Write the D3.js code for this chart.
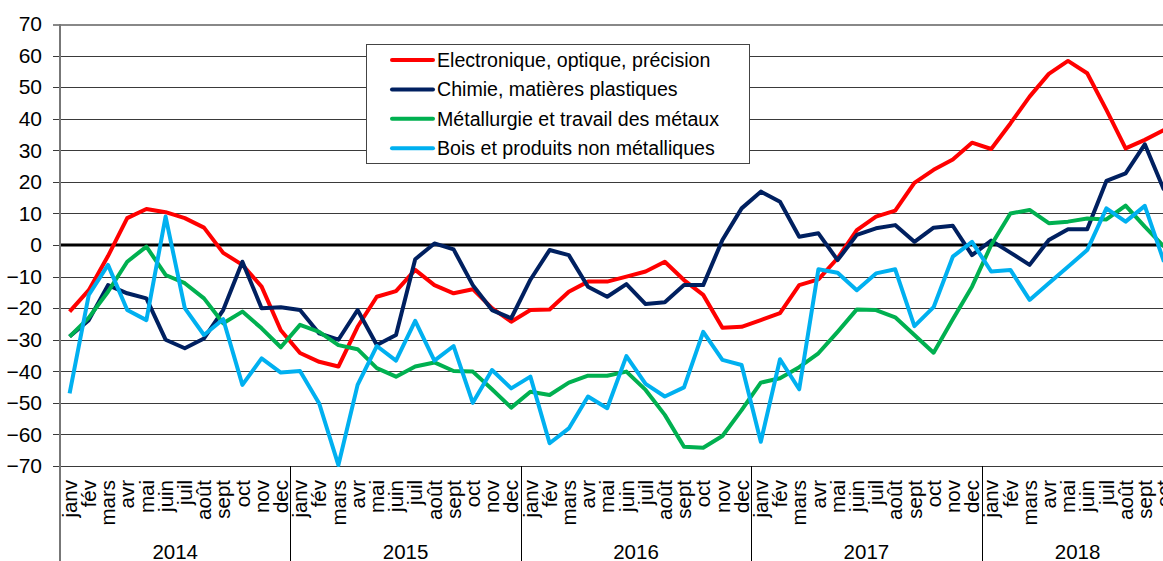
<!DOCTYPE html>
<html>
<head>
<meta charset="utf-8">
<script src="https://cdnjs.cloudflare.com/ajax/libs/d3/7.8.5/d3.min.js"></script>
<style>
  body { margin: 0; background: #fff; overflow: hidden; }
  svg { display: block; font-family: "Liberation Sans", Arial, sans-serif; }
</style>
</head>
<body>
<script>
// Data
var months = ["janv", "fév", "mars", "avr", "mai", "juin", "juil", "août", "sept", "oct", "nov", "dec"];
var years = ["2014", "2015", "2016", "2017", "2018"];
var yTicks = [70, 60, 50, 40, 30, 20, 10, 0, -10, -20, -30, -40, -50, -60, -70];

var electronique = [-21.1, -14.3, -3.5, 8.5, 11.4, 10.4, 8.5, 5.5, -2.5, -6.3, -13.2, -27,
  -34.2, -37, -38.5, -25.9, -16.4, -14.6, -7.9, -12.7, -15.3, -14, -20, -24.3,
  -20.6, -20.4, -14.8, -11.6, -11.6, -10, -8.4, -5.3, -11.1, -15.8, -26.2, -25.9,
  -23.8, -21.6, -12.7, -10.9, -4.2, 4.7, 9, 10.9, 19.7, 23.8, 27.1, 32.4,
  30.4, 38.5, 47, 54.2, 58.3, 54.4, 42.8, 30.6, 33.3, 36.4];
var chimie = [-29, -23.8, -12.7, -15.3, -16.9, -30, -32.7, -29.6, -20.6, -5.3, -20, -19.7,
  -20.6, -28, -30, -20.6, -31.7, -28.5, -4.5, 0.5, -1.4, -12.7, -20.6, -23.2,
  -11, -1.6, -3.2, -13.2, -16.4, -12.4, -18.7, -18.1, -12.7, -12.7, 1.6, 11.6,
  16.9, 13.7, 2.6, 3.7, -4.8, 3.2, 5.3, 6.3, 1, 5.5, 6.1, -3.2,
  1.4, -2.4, -6.3, 1.6, 5, 5, 20.3, 22.7, 31.9, 17.4];
var metallurgie = [-29, -23, -14.8, -5.3, -0.5, -9.5, -12.1, -16.9, -24.8, -21.1, -26.4, -32.4,
  -25.3, -27.5, -31.7, -33, -39, -41.7, -38.5, -37.2, -39.9, -40.1, -45.7, -51.5,
  -46.5, -47.5, -43.6, -41.4, -41.4, -40.1, -45.9, -53.8, -63.9, -64.2, -60.5, -52.3,
  -43.6, -42.2, -38.7, -34.3, -27.5, -20.4, -20.6, -22.9, -28.5, -34.1, -23.5, -13.2,
  0, 10, 11.1, 6.9, 7.4, 8.4, 8.1, 12.5, 5.8, -0.5];
var bois = [-47, -15.8, -6.3, -20.6, -23.8, 9, -20, -28.5, -23.5, -44.3, -35.9, -40.4,
  -39.9, -50.2, -69.7, -44.3, -32, -36.6, -24, -36.6, -32, -50, -39.6, -45.4,
  -41.7, -62.8, -58.1, -48, -51.7, -35.2, -44, -48, -45.1, -27.5, -36.4, -38,
  -62.3, -36.2, -45.7, -7.7, -8.8, -14.3, -9, -7.7, -25.7, -19.7, -3.7, 1,
  -8.4, -7.9, -17.4, -12.1, -6.9, -1.6, 11.6, 7.4, 12.4, -5.3];

var seriesNames = ["Electronique, optique, précision", "Chimie, matières plastiques",
  "Métallurgie et travail des métaux", "Bois et produits non métalliques"];
var seriesColors = ["#ff0000", "#002060", "#00b050", "#00b0f0"];
var seriesValues = [electronique, chimie, metallurgie, bois];

var svgWidth = 1163;
var svgHeight = 561;

var svg = d3.select("body")
  .append("svg")
  .attr("width", svgWidth)
  .attr("height", svgHeight);

// one slot per month that has data (last one, oct 2018, sits on the right edge)
var slots = [];
years.forEach(function(y) {
  months.forEach(function(m) { slots.push(y + "-" + m); });
});
slots = slots.slice(0, electronique.length);

var xScale = d3.scaleBand().domain(slots).range([60, 60 + slots.length * 19.2]);
var yScale = d3.scaleLinear().domain([-70, 70]).range([466, 24]);

function xPos(i) {
  return xScale(slots[i]) + xScale.bandwidth() / 2;
}

// Gridlines + y axis labels
var leftAxis = d3.axisLeft(yScale)
  .tickValues(yTicks)
  .tickSize(-(svgWidth - 60))
  .tickPadding(18)
  .tickFormat(d3.format("d"));

var yAxisG = svg.append("g")
  .attr("transform", "translate(60,0)")
  .call(leftAxis);
yAxisG.select(".domain").remove();
yAxisG.selectAll(".tick line")
  .attr("x1", -7)
  .attr("stroke", function(d) { return d === 70 ? "#888" : "#3a3a3a"; })
  .attr("stroke-width", function(d) { return d === 70 ? 2 : 1; })
  .attr("shape-rendering", "crispEdges");
yAxisG.selectAll(".tick text")
  .attr("font-size", "21px")
  .attr("fill", "#000");

// thick zero line
svg.append("line")
  .attr("x1", 60).attr("x2", svgWidth)
  .attr("y1", yScale(0)).attr("y2", yScale(0))
  .attr("stroke", "#000")
  .attr("stroke-width", 3);

// left axis line (runs down through the category labels)
svg.append("line")
  .attr("x1", 60).attr("x2", 60)
  .attr("y1", 24).attr("y2", svgHeight)
  .attr("stroke", "#777")
  .attr("stroke-width", 2);

// year separators
svg.selectAll(".sep")
  .data(years.slice(1))
  .enter()
  .append("line")
  .attr("x1", function(d) { return Math.round(xScale(d + "-janv")) + 0.5; })
  .attr("x2", function(d) { return Math.round(xScale(d + "-janv")) + 0.5; })
  .attr("y1", 466).attr("y2", svgHeight)
  .attr("stroke", "#000")
  .attr("stroke-width", 1);

// month labels
svg.selectAll(".month")
  .data(slots)
  .enter()
  .append("text")
  .attr("transform", function(d) {
    return "translate(" + (xScale(d) + xScale.bandwidth() / 2) + ",480) rotate(-90)";
  })
  .attr("text-anchor", "end")
  .attr("dy", "0.35em")
  .attr("font-size", "20.5px")
  .text(function(d) { return d.split("-")[1]; });

// year labels, centred over the months each year has
svg.selectAll(".year")
  .data(years)
  .enter()
  .append("text")
  .attr("x", function(d) {
    var inYear = slots.filter(function(s) { return s.indexOf(d) === 0; });
    var first = xScale(inYear[0]);
    var last = xScale(inYear[inYear.length - 1]) + xScale.bandwidth();
    return (first + last) / 2;
  })
  .attr("y", 559)
  .attr("text-anchor", "middle")
  .attr("font-size", "20.5px")
  .text(function(d) { return d; });

// Lines
var line = d3.line()
  .x(function(d, i) { return xPos(i); })
  .y(function(d) { return yScale(d); });

seriesValues.forEach(function(vals, k) {
  svg.append("path")
    .datum(vals)
    .attr("d", line)
    .attr("fill", "none")
    .attr("stroke", seriesColors[k])
    .attr("stroke-width", 4)
    .attr("stroke-linejoin", "round");
});

// Legend
var legend = svg.append("g");
legend.append("rect")
  .attr("x", 366.5).attr("y", 44.5)
  .attr("width", 383).attr("height", 119)
  .attr("fill", "#fff")
  .attr("stroke", "#444")
  .attr("stroke-width", 1);

seriesNames.forEach(function(name, k) {
  var ly = 60 + k * 29.4;
  legend.append("line")
    .attr("x1", 392).attr("x2", 433)
    .attr("y1", ly).attr("y2", ly)
    .attr("stroke", seriesColors[k])
    .attr("stroke-width", 4)
    .attr("stroke-linecap", "round");
  legend.append("text")
    .attr("x", 437)
    .attr("y", ly)
    .attr("dy", "0.35em")
    .attr("font-size", "19.6px")
    .text(name);
});
</script>
</body>
</html>
